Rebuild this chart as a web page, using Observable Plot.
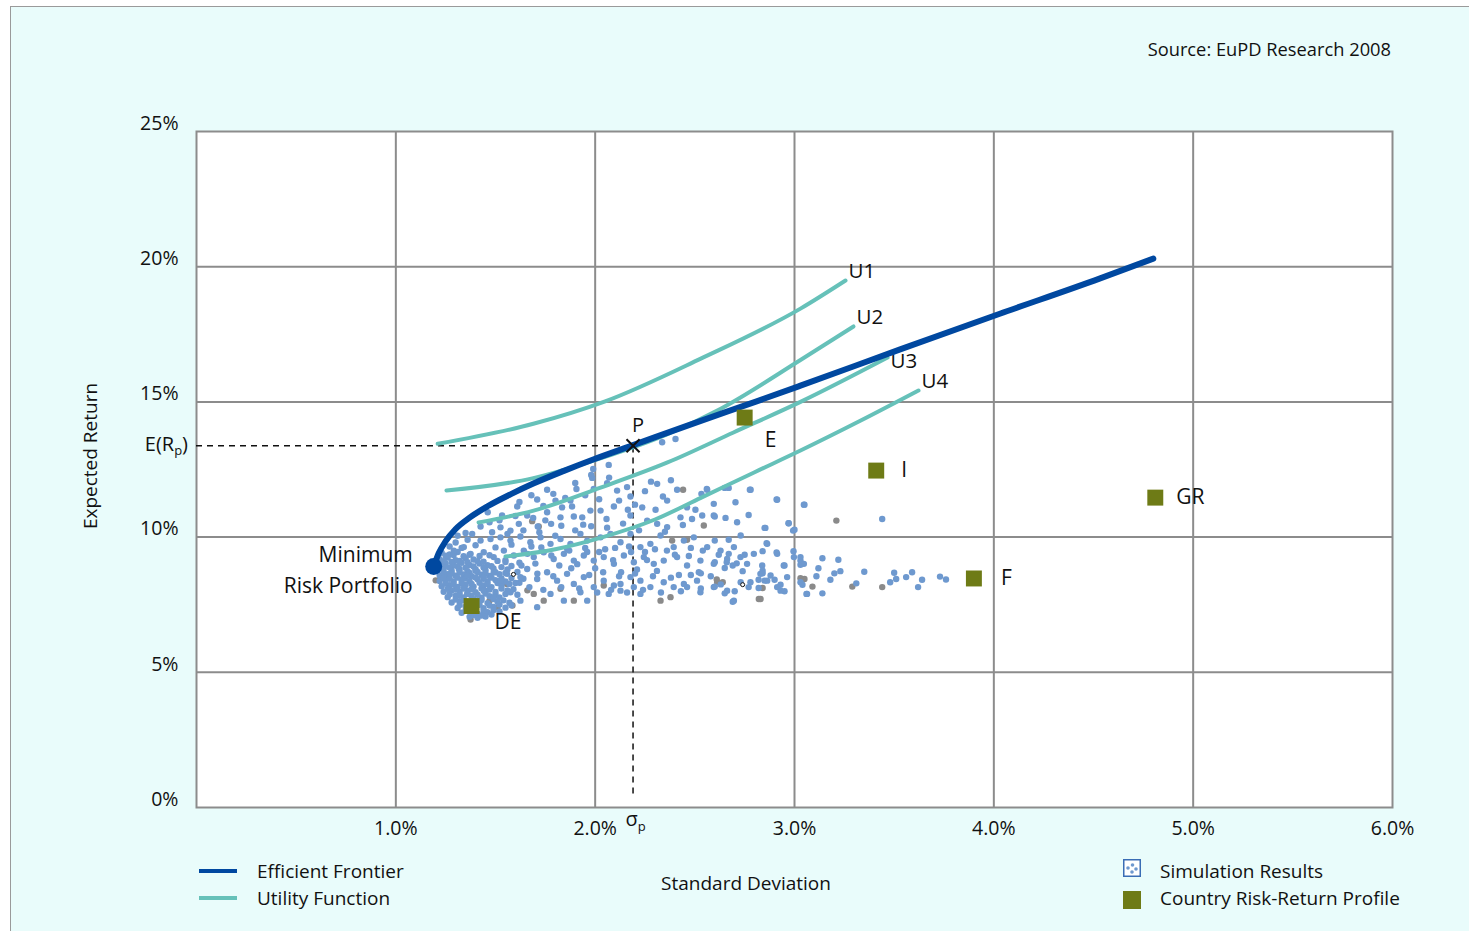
<!DOCTYPE html>
<html>
<head>
<meta charset="utf-8">
<script src="https://cdn.jsdelivr.net/npm/d3@7"></script>
<script src="https://cdn.jsdelivr.net/npm/@observablehq/plot@0.6"></script>
<style>
  html, body { margin: 0; padding: 0; background: #ffffff; }
  body { width: 1469px; height: 931px; position: relative; overflow: hidden;
         font-family: "Open Sans", sans-serif; color: #111; }
  #panel { position: absolute; left: 10px; top: 6px; width: 1470px; height: 940px;
           background: #e9fcfb; border-left: 1px solid #9a9a9a; border-top: 1px solid #9a9a9a; }
  #chart { position: absolute; left: 0; top: 0; }
  .t { position: absolute; font-size: 19px; line-height: 20px; white-space: nowrap; }
  .swatch { position: absolute; width: 38px; height: 4px; }
  .box { position: absolute; width: 18px; height: 18px; }
</style>
</head>
<body>
<div id="panel"></div>
<div id="chart"></div>

<div class="t" style="right:78px; top:39px; font-size:18.3px;">Source: EuPD Research 2008</div>
<div class="t" style="left:90px; top:446px; transform: translateX(-50%) rotate(-90deg);">Expected Return</div>
<div class="t" style="left:746px; top:873px; transform: translateX(-50%);">Standard Deviation</div>

<div class="swatch" style="left:199px; top:869px; background:#0048a0;"></div>
<div class="t" style="left:257px; top:861px;">Efficient Frontier</div>
<div class="swatch" style="left:199px; top:896px; background:#66c1b9;"></div>
<div class="t" style="left:257px; top:888px;">Utility Function</div>

<svg class="box" style="left:1123px; top:859px;" viewBox="0 0 18 18">
  <rect x="0.75" y="0.75" width="16.5" height="16.5" fill="#fff" stroke="#3a6db5" stroke-width="1.5"/>
  <circle cx="5" cy="9" r="1.8" fill="#6e99cf"/>
  <circle cx="9.5" cy="6" r="1.8" fill="#6e99cf"/>
  <circle cx="13" cy="10" r="1.8" fill="#6e99cf"/>
  <circle cx="9" cy="13" r="1.8" fill="#6e99cf"/>
</svg>
<div class="t" style="left:1160px; top:861px;">Simulation Results</div>
<div class="box" style="left:1123px; top:891px; background:#6e7b16;"></div>
<div class="t" style="left:1160px; top:888px;">Country Risk-Return Profile</div>

<script>
// Axis ticks (percent)
const xTicks = [1, 2, 3, 4, 5, 6];
const yTicks = [0, 5, 10, 15, 20, 25];

// Efficient frontier: standard deviation (%) and expected return (%)
const frontierSd  = [1.19, 1.215, 1.25, 1.30, 1.37, 1.46, 1.58, 1.69, 1.84, 1.99, 2.19, 2.53, 2.81, 3.03, 3.53, 4.03, 4.53, 4.80];
const frontierRet = [8.91, 9.40, 9.85, 10.30, 10.72, 11.14, 11.60, 11.98, 12.44, 12.87, 13.40, 14.30, 15.02, 15.60, 16.94, 18.26, 19.56, 20.30];

// Utility function curves
const utilityNames = ["U1", "U2", "U3", "U4"];
const utilitySd = [
  [1.21, 1.69, 2.05, 2.53, 3.03, 3.256],
  [1.254, 1.69, 2.03, 2.36, 2.63, 3.03, 3.296],
  [1.415, 1.691, 2.027, 2.363, 2.694, 3.03, 3.467],
  [1.55, 1.80, 2.03, 2.30, 2.53, 2.80, 3.03, 3.33, 3.622]
];
const utilityRet = [
  [13.45, 14.19, 15.02, 16.60, 18.45, 19.49],
  [11.72, 12.18, 12.92, 13.80, 14.75, 16.55, 17.79],
  [10.54, 10.98, 11.83, 12.76, 13.87, 15.00, 16.64],
  [9.28, 9.55, 9.98, 10.65, 11.45, 12.40, 13.20, 14.30, 15.42]
];

// Optimal portfolio P
const portfolioSd = 2.19;
const portfolioRet = 13.38;

// Country risk-return profiles
const countries  = ["DE", "E", "I", "GR", "F"];
const countrySd  = [1.38, 2.75, 3.41, 4.81, 3.90];
const countryRet = [7.45, 14.42, 12.46, 11.46, 8.47];

// Simulation results [standard deviation %, expected return %]
const simBlue = [
  // low-risk cluster
  [1.23,9.42],[1.27,9.36],[1.31,9.45],
  [1.22,9.18],[1.26,9.24],[1.30,9.15],[1.35,9.22],[1.39,9.17],
  [1.21,8.98],[1.25,9.03],[1.29,8.95],[1.33,9.05],[1.37,8.97],[1.42,9.02],[1.46,8.96],
  [1.21,8.78],[1.24,8.83],[1.28,8.76],[1.32,8.82],[1.36,8.74],[1.40,8.81],[1.45,8.77],[1.49,8.84],
  [1.22,8.58],[1.26,8.63],[1.30,8.57],[1.34,8.62],[1.38,8.55],[1.43,8.61],[1.47,8.56],[1.52,8.63],
  [1.22,8.38],[1.25,8.43],[1.29,8.36],[1.33,8.42],[1.37,8.37],[1.41,8.44],[1.46,8.35],[1.50,8.41],[1.55,8.36],
  [1.23,8.18],[1.27,8.22],[1.31,8.16],[1.35,8.23],[1.39,8.17],[1.44,8.21],[1.48,8.15],[1.53,8.22],
  [1.24,7.98],[1.28,8.03],[1.32,7.97],[1.36,8.02],[1.40,7.96],[1.45,8.01],[1.50,7.97],[1.56,8.03],
  [1.26,7.78],[1.30,7.83],[1.34,7.77],[1.38,7.82],[1.43,7.76],[1.47,7.81],[1.52,7.77],
  [1.28,7.58],[1.32,7.63],[1.36,7.57],[1.41,7.62],[1.46,7.56],[1.51,7.61],[1.57,7.57],
  [1.31,7.38],[1.35,7.43],[1.44,7.37],[1.49,7.42],[1.55,7.39],
  [1.33,7.20],[1.37,7.24],[1.41,7.17],[1.46,7.22],[1.52,7.25],
  [1.37,7.05],[1.41,7.02],[1.45,7.06],
  [1.27,9.65],[1.30,9.80],[1.33,9.60],[1.36,9.90],[1.31,10.05],[1.40,9.70],[1.35,10.15],
  [1.25,9.31],[1.29,9.34],[1.34,9.29],[1.37,9.35],[1.42,9.30],[1.47,9.33],
  [1.24,9.11],[1.28,9.08],[1.32,9.12],[1.36,9.07],[1.41,9.11],[1.44,9.09],[1.51,9.12],[1.55,9.08],
  [1.23,8.91],[1.27,8.88],[1.31,8.92],[1.35,8.87],[1.39,8.91],[1.44,8.88],[1.48,8.92],[1.53,8.89],[1.58,8.93],
  [1.24,8.69],[1.28,8.66],[1.32,8.70],[1.37,8.67],[1.41,8.71],[1.45,8.66],[1.50,8.70],[1.55,8.67],[1.61,8.71],
  [1.24,8.49],[1.27,8.46],[1.31,8.50],[1.35,8.47],[1.40,8.51],[1.44,8.46],[1.48,8.50],[1.53,8.47],[1.58,8.49],[1.64,8.46],
  [1.25,8.29],[1.29,8.26],[1.33,8.30],[1.38,8.27],[1.42,8.31],[1.46,8.26],[1.51,8.30],[1.57,8.27],[1.62,8.31],
  [1.26,8.09],[1.30,8.06],[1.34,8.10],[1.38,8.07],[1.43,8.11],[1.47,8.06],[1.53,8.10],[1.59,8.07],
  [1.27,7.89],[1.32,7.86],[1.36,7.90],[1.41,7.87],[1.45,7.91],[1.50,7.86],[1.55,7.90],[1.61,7.87],
  [1.30,7.69],[1.34,7.66],[1.39,7.70],[1.43,7.67],[1.49,7.71],[1.54,7.66],
  [1.32,7.49],[1.37,7.46],[1.42,7.50],[1.47,7.47],[1.52,7.51],[1.58,7.48],
  [1.35,7.29],[1.39,7.31],[1.44,7.27],[1.49,7.30],
  [1.39,7.12],[1.43,7.10],[1.48,7.14],
  // upper band
  [2.336,13.51],[2.403,13.63],[2.068,12.67],[1.990,12.52],[1.985,12.19],[2.060,11.99],[1.993,11.78],
  [1.906,11.78],[1.759,11.75],[1.709,11.39],[1.801,11.35],[1.876,11.35],[1.834,11.10],[1.884,11.13],
  [1.759,10.92],[1.609,11.13],[1.659,10.80],[1.533,10.80],[1.461,10.92],[2.110,11.72],[2.177,11.50],
  [2.311,11.97],[2.411,11.75],[2.533,11.60],[2.562,11.75],[2.670,11.82],[2.776,11.75],[2.913,11.38],
  [3.047,11.20],[2.361,11.35],[2.461,11.10],[2.503,11.01],[2.595,11.23],[2.704,11.29],[2.303,11.01],
  [2.236,11.10],[2.164,11.01],[2.177,10.80],[2.094,11.13],[2.057,10.67],[2.027,10.98],[1.976,10.98],
  [1.935,10.73],[1.940,10.46],[1.893,10.76],[1.826,10.73],[1.779,10.49],[1.712,10.39],[1.689,10.71],
  [1.617,10.49],[1.575,10.24],[1.525,10.36],[1.483,10.18],[1.425,10.39],[1.383,10.12],
  [2.261,10.61],[2.311,10.49],[2.361,10.37],[2.428,10.73],[2.486,10.67],[2.537,10.80],[2.595,10.80],
  [2.654,10.71],[2.712,10.55],[2.854,10.34],[2.971,10.51],[2.993,10.24],
  [1.62,11.30],[1.68,11.55],[1.74,11.15],[1.79,11.60],[1.85,11.45],[1.90,12.00],[1.95,11.55],
  [1.98,12.30],[2.02,11.40],[2.07,12.20],[2.12,11.35],[2.16,11.85],[2.20,11.20],[2.25,11.70],
  [2.28,12.05],[2.34,11.50],[2.38,12.10],
  // middle band
  [1.425,9.87],[1.475,9.93],[1.525,9.99],[1.575,9.87],[1.625,10.02],[1.675,9.81],[1.726,9.99],
  [1.776,9.75],[1.826,9.93],[1.876,9.75],[1.926,10.12],[1.960,9.87],[2.027,9.99],[2.077,10.12],
  [2.127,9.81],[2.177,10.12],[2.227,9.63],[2.277,9.75],[2.328,10.06],[2.394,9.63],[2.445,9.87],
  [2.495,9.99],[2.562,9.63],[2.629,9.50],[2.696,9.63],[2.729,9.26],[2.796,9.38],[2.863,9.75],
  [2.913,9.38],[2.997,9.26],[3.030,9.13],
  [1.291,9.50],[1.341,9.63],[1.375,9.38],[1.441,9.44],[1.491,9.26],[1.542,9.50],[1.592,9.32],
  [1.642,9.50],[1.692,9.26],[1.742,9.44],[1.792,9.19],[1.843,9.38],[1.893,9.13],[1.943,9.32],
  [1.993,9.13],[2.043,9.26],[2.094,9.01],[2.144,9.32],[2.194,9.07],[2.244,9.26],[2.294,9.01],
  [2.344,9.13],[2.411,9.26],[2.461,8.95],[2.528,9.13],[2.595,9.01],[2.662,9.19],[2.762,9.01],
  [2.838,8.95],[2.946,8.95],[3.047,9.01],
  [1.47,10.55],[1.52,10.62],[1.56,10.12],[1.60,10.78],[1.64,10.25],[1.68,9.65],[1.72,10.18],
  [1.75,10.62],[1.80,10.05],[1.83,10.42],[1.86,9.55],[1.90,10.25],[1.95,9.60],[1.98,10.40],
  [2.02,9.45],[2.06,10.35],[2.10,9.60],[2.14,10.50],[2.18,9.45],[2.22,10.25],[2.26,9.15],
  [2.30,9.55],[2.35,10.20],[2.40,9.35],[2.44,10.45],[2.48,9.60],
  [1.50,9.62],[1.55,9.15],[1.58,9.72],[1.62,9.05],[1.66,9.38],[1.70,9.02],[1.73,9.62],
  [1.78,9.32],[1.82,8.95],[1.87,9.50],[1.91,9.00],[1.96,9.45],[2.00,8.85],[2.05,9.55],
  [2.09,9.15],[2.13,8.70],[2.17,9.65],[2.21,8.80],[2.25,9.45],[2.31,8.75],[2.36,9.50],
  [2.42,8.60],[2.47,9.30],[2.52,8.70],
  // lower band
  [1.241,8.89],[1.274,8.64],[1.316,8.82],[1.358,8.58],[1.400,8.76],[1.441,8.52],[1.491,8.70],
  [1.525,8.39],[1.558,8.64],[1.625,8.52],[1.659,8.82],[1.709,8.45],[1.759,8.70],[1.809,8.39],
  [1.859,8.64],[1.893,8.27],[1.943,8.52],[1.993,8.15],[2.043,8.39],[2.094,8.21],[2.127,8.27],
  [2.177,8.52],[2.227,8.39],[2.277,8.15],[2.344,8.33],[2.394,8.15],[2.445,8.27],[2.511,8.39],
  [2.595,8.15],[2.662,8.02],[2.696,7.65],[2.779,8.33],[2.829,8.64],[2.863,8.39],[2.913,8.15],
  [2.963,8.52],[3.030,8.33],
  [1.308,8.15],[1.358,7.90],[1.441,8.02],[1.491,7.78],[1.575,7.96],[1.625,7.65],[1.709,7.41],
  [1.776,7.90],[1.843,7.65],[1.926,7.96],[1.960,7.65],[2.068,7.90],[2.127,8.02],[2.194,8.15],
  [2.227,7.90],[2.461,8.15],[2.528,7.96],[2.930,8.02],[3.063,7.90],
  [1.56,8.80],[1.60,8.30],[1.63,8.95],[1.67,8.15],[1.71,8.65],[1.74,8.05],[1.79,8.55],
  [1.83,8.15],[1.88,8.85],[1.92,8.10],[1.97,8.60],[2.01,7.95],[2.04,8.70],[2.08,8.05],
  [2.12,8.55],[2.16,7.95],[2.20,8.65],[2.24,8.05],[2.29,8.55],[2.33,7.95],[2.38,8.50],
  [2.43,8.00],[2.48,8.60],[2.53,8.10],[2.58,8.55],[2.63,8.25],
  // right-hand spread
  [2.56,11.78],[2.65,11.82],[2.78,11.75],[2.91,11.39],[3.05,11.20],[2.77,10.82],[2.60,10.76],
  [2.85,10.34],[2.97,10.51],[3.00,10.27],[3.44,10.67],
  [2.60,9.87],[2.67,9.90],[2.73,10.06],[2.86,9.77],[2.54,9.50],[2.62,9.35],[2.67,9.38],[2.75,9.35],
  [2.84,9.48],[2.91,9.43],[2.995,9.48],[3.03,9.26],[3.03,8.98],[3.14,9.22],[3.22,9.16],[3.12,8.85],
  [3.11,8.55],[3.18,8.42],[3.20,8.66],[3.23,8.74],[3.35,8.72],[3.31,8.29],[3.50,8.68],[3.51,8.45],
  [3.56,8.52],[3.59,8.70],[3.64,8.42],[3.62,8.15],[3.73,8.54],[3.76,8.43],[3.48,8.33],
  [3.04,8.24],[3.06,7.90],[3.14,7.92],[2.95,8.00],[2.93,8.24],[2.90,8.42],[2.88,8.58],[2.84,8.76],
  [2.95,8.95],[2.85,8.39],[2.82,8.42],[2.82,8.12],[2.70,8.00],[2.65,7.92],[2.69,7.61],[2.60,8.17],
  [2.73,8.33],[2.77,8.15],[2.84,8.66],[2.74,8.74],[2.69,8.95],[2.71,9.03],[2.65,8.86],[2.66,9.07],
  [2.60,9.07],[2.53,8.66]
];

const simGrey = [
  [1.684,10.59],[1.717,10.39],[2.441,11.75],[2.545,10.43],[2.386,9.87],[2.461,9.90],[1.558,8.27],
  [1.692,7.90],[1.742,7.65],[1.826,8.09],[1.893,7.65],[2.043,8.21],[2.328,7.65],[2.378,7.78],
  [2.612,8.33],[2.821,7.71],[3.030,8.48],[3.21,10.61],[3.44,8.15],[3.29,8.17],[3.09,8.17],
  [3.05,8.45],[2.84,8.12],[2.83,7.71],[2.64,8.33],[2.61,8.43],
  [1.20,8.40],[1.47,7.65],[1.51,7.40],[1.56,8.28],[1.585,7.47],[1.66,8.03],[1.375,6.95]
];

// Hollow markers among the simulation results
const simRings = [[1.59,8.62],[2.74,8.24]];

// Tables built from the arrays above
const frontier = frontierSd.map((sd, i) => ({sd, ret: frontierRet[i]}));
const utility = utilityNames.flatMap((name, k) =>
  utilitySd[k].map((sd, i) => ({name, sd, ret: utilityRet[k][i]})));
const utilityEnds = utilityNames.map((name, k) => ({
  name, sd: utilitySd[k][utilitySd[k].length - 1], ret: utilityRet[k][utilityRet[k].length - 1]
}));
const portfolio = {name: "P", sd: portfolioSd, ret: portfolioRet};
const countryRows = countries.map((name, i) => ({name, sd: countrySd[i], ret: countryRet[i]}));

// label placement next to each country marker (pixels)
const countryLabelOffset = {DE: [23, 16], E: [20, 23], I: [25, 0], GR: [21, 0], F: [27, 0]};

const grid = "#8c8c8c";
const blue = "#0048a0";
const teal = "#66c1b9";
const olive = "#6e7b16";
const ink = "#111111";
const labelSize = 21;

const chart = Plot.plot({
  width: 1469,
  height: 931,
  marginLeft: 196,
  marginRight: 77,
  marginTop: 131,
  marginBottom: 124,
  x: {domain: [0, 6]},
  y: {domain: [0, 25]},
  style: {fontFamily: "Open Sans, sans-serif", fontSize: "19px", background: "transparent", color: ink},
  marks: [
    Plot.frame({fill: "white"}),
    Plot.gridX([1, 2, 3, 4, 5], {stroke: grid, strokeOpacity: 1, strokeWidth: 2}),
    Plot.gridY([5, 10, 15, 20], {stroke: grid, strokeOpacity: 1, strokeWidth: 2}),
    Plot.frame({stroke: grid, strokeWidth: 2}),
    Plot.axisX(xTicks, {tickSize: 0, tickPadding: 14, tickFormat: d => d.toFixed(1) + "%", fontSize: 19.5, label: null}),
    Plot.axisY(yTicks, {tickSize: 0, tickPadding: 18, dy: -8, tickFormat: d => d + "%", fontSize: 19.5, label: null}),

    // guide lines to the optimal portfolio
    Plot.ruleY([portfolio], {x1: 0, x2: "sd", y: "ret", stroke: ink, strokeWidth: 1.5, strokeDasharray: "6,5"}),
    Plot.ruleX([portfolio], {x: "sd", y1: 0.5, y2: "ret", stroke: ink, strokeWidth: 1.5, strokeDasharray: "6,5"}),

    // simulation results
    Plot.dot(simGrey, {x: d => d[0], y: d => d[1], r: 3.2, fill: "#8a8a8a"}),
    Plot.dot(simBlue, {x: d => d[0], y: d => d[1], r: 3.2, fill: "#6e99cf"}),
    Plot.dot(simRings, {x: d => d[0], y: d => d[1], r: 2, fill: "white", stroke: ink, strokeWidth: 1}),

    // utility functions
    Plot.line(utility, {x: "sd", y: "ret", z: "name", curve: "monotone-x", stroke: teal, strokeWidth: 4}),
    Plot.text(utilityEnds.filter(d => d.name !== "U3"), {x: "sd", y: "ret", text: "name", textAnchor: "start", dx: 3, dy: -9, fontSize: 20.5, fill: ink}),
    Plot.text(utilityEnds.filter(d => d.name === "U3"), {x: "sd", y: "ret", text: "name", textAnchor: "start", dx: 3, dy: 4, fontSize: 20.5, fill: ink}),

    // efficient frontier and minimum risk portfolio
    Plot.line(frontier, {x: "sd", y: "ret", curve: "monotone-x", stroke: blue, strokeWidth: 6, strokeLinecap: "round"}),
    Plot.dot(frontier.slice(0, 1), {x: "sd", y: "ret", r: 8.5, fill: blue}),
    Plot.text(frontier.slice(0, 1), {x: "sd", y: "ret", text: () => "Minimum\nRisk Portfolio", textAnchor: "end", lineAnchor: "middle", lineHeight: 1.48, dx: -21, dy: 1, fontSize: labelSize, fill: ink}),

    // optimal portfolio marker
    Plot.dot([portfolio], {x: "sd", y: "ret", symbol: "times", r: 6, stroke: ink, strokeWidth: 2}),
    Plot.text([portfolio], {x: "sd", y: "ret", text: "name", dx: 5, dy: -20, fontSize: 20, fill: ink}),

    // country profiles
    Plot.dot(countryRows, {x: "sd", y: "ret", symbol: "square", r: 9, fill: olive}),
    ...countryRows.map(c => Plot.text([c], {
      x: "sd", y: "ret", text: "name", textAnchor: "start",
      dx: countryLabelOffset[c.name][0], dy: countryLabelOffset[c.name][1],
      fontSize: labelSize, fill: ink
    }))
  ]
});

document.getElementById("chart").appendChild(chart);

// Subscripted labels for E(Rp) on the y side and σp below the x axis
const xs = chart.scale("x"), ys = chart.scale("y");
const svg = d3.select(chart);
const er = svg.append("text")
  .attr("x", xs.apply(0) - 8).attr("y", ys.apply(portfolio.ret) + 6)
  .attr("text-anchor", "end").attr("font-size", 20).attr("fill", ink);
er.append("tspan").text("E(R");
er.append("tspan").attr("font-size", 13).attr("dy", 4).text("p");
er.append("tspan").attr("dy", -4).text(")");

const sg = svg.append("text")
  .attr("x", xs.apply(portfolio.sd) - 7).attr("y", ys.apply(0) + 19)
  .attr("text-anchor", "start").attr("font-size", 20).attr("fill", ink);
sg.append("tspan").text("σ");
sg.append("tspan").attr("font-size", 13).attr("dy", 5).text("p");
</script>
</body>
</html>
